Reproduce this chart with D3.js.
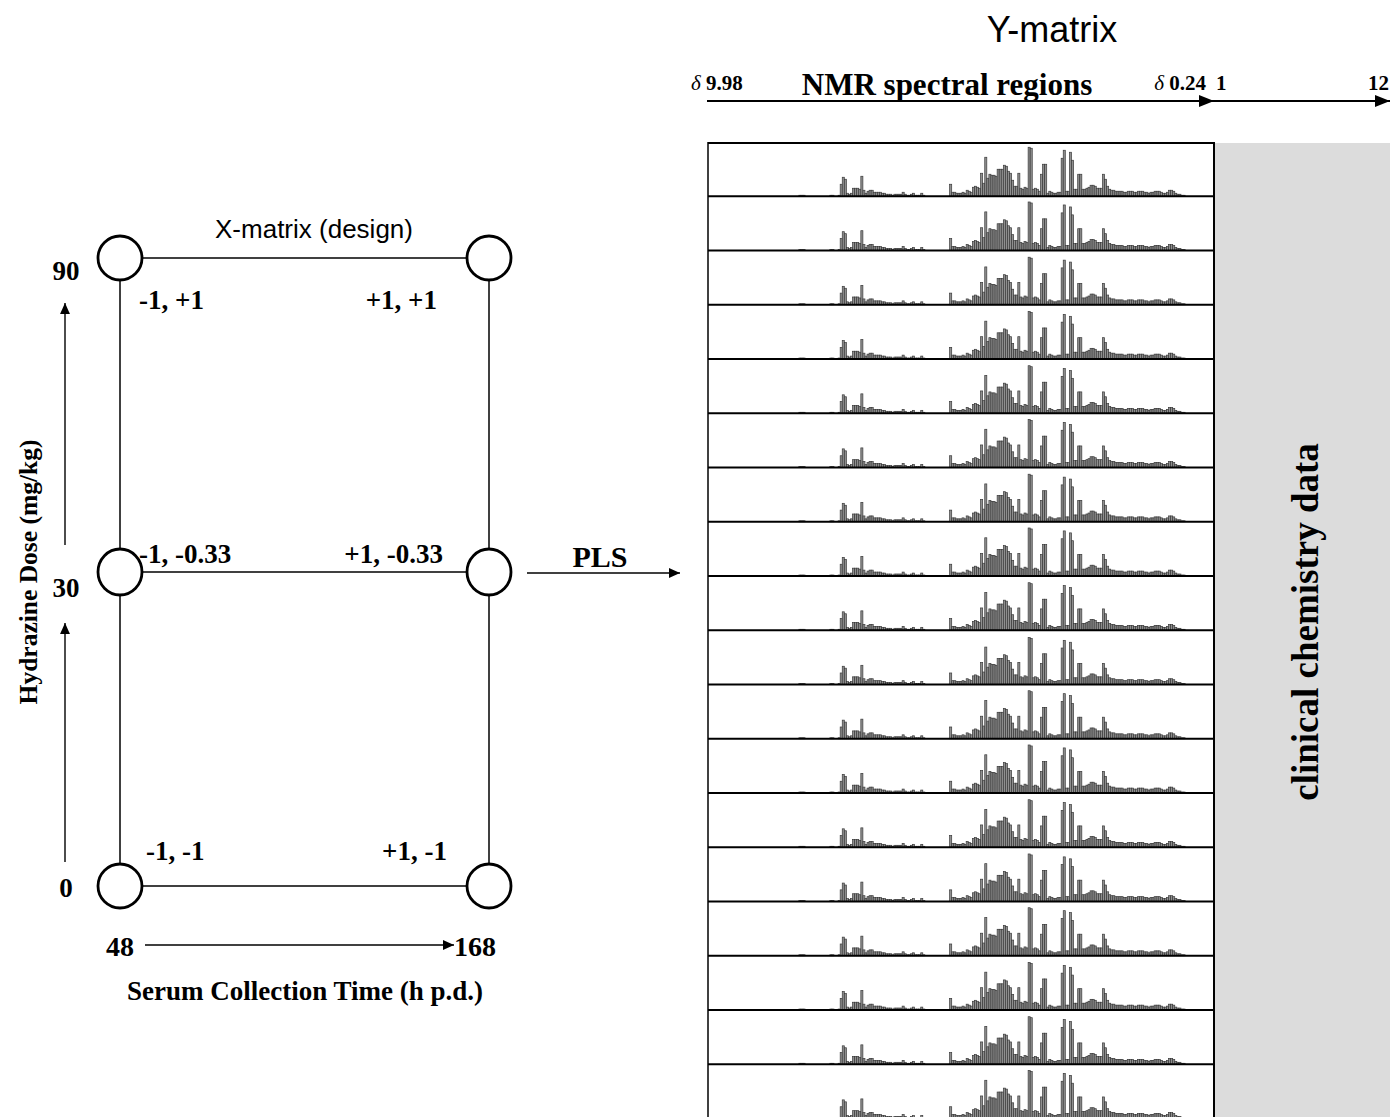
<!DOCTYPE html>
<html><head><meta charset="utf-8">
<script src="https://cdn.jsdelivr.net/npm/d3@7"></script>
<style>body{margin:0;background:#fff}svg{display:block}</style>
</head><body>
<script>
// ---------------- DATA ----------------
// binned 1H NMR spectrum (bins from δ 9.98 down to δ 0.24)
const spectrum = [
 0,0,0,0,0,0,0,0,0,0, 0,0,0,0,0,0,0,0,0,0, 0,0,0,0,0,0,0,0,0,0, 0,0,0,0,0,0,0,0,0,0, // 0-39
 0,0,0,0,1,1,1,0,0,0, // 40-49
 0,0,0,0,0,0,0,0,0,1, // 50-59
 1,0,0,1,12,19,17,3,2,3, // 60-69
 8,8,8,7,20,6,3,5,6,6, // 70-79
 4,4,4,4,3,3,2,2,2,1, // 80-89
 2,2,2,2,4,2,1,1,2,3, // 90-99
 1,1,1,3,1,0,0,0,0,0, // 100-109
 0,0,0,0,0,0,0,12,4,4, // 110-119
 3,3,3,4,3,6,5,4,9,10, // 120-129
 9,8,23,13,39,18,22,21,21,20, // 130-139
 27,27,27,31,30,25,23,16,10,10, // 140-149
 23,8,7,9,8,49,48,7,8,7, // 150-159
 5,22,32,32,3,5,4,3,3,4, // 160-169
 4,38,46,5,5,44,36,7,7,22, // 170-179
 22,7,7,8,9,11,11,10,8,8, // 180-189
 8,22,17,10,7,6,6,5,5,5, // 190-199
 5,4,4,5,5,5,4,4,5,5, // 200-209
 5,4,4,3,4,4,5,5,5,4, // 210-219
 3,3,4,6,6,5,3,2,2,1, // 220-229
 1,0,0,0,0,0,0,0,0,0, // 230-239
 0,0,0,0,0 // 240-244
];
// relative height of each of the 18 visible sample rows
const rowGain = [1.0,0.99,0.97,0.97,0.97,0.98,0.97,0.98,0.97,0.96,0.98,0.98,0.97,0.97,0.98,0.97,0.97,0.98];
const ppmRange = [9.98, 0.24];
const clinRange = [1, 12];
// experimental design (X-matrix)
const times = [48, 168];
const doses = [90, 30, 0];
const designPoints = [
  {time:48,  dose:90, label:"-1, +1"},
  {time:168, dose:90, label:"+1, +1"},
  {time:48,  dose:30, label:"-1, -0.33"},
  {time:168, dose:30, label:"+1, -0.33"},
  {time:48,  dose:0,  label:"-1, -1"},
  {time:168, dose:0,  label:"+1, -1"}
];

// ---------------- DRAWING ----------------
const W = 1390, H = 1117;
const serif = "'Liberation Serif','Times New Roman',serif";
const sans = "'Liberation Sans',Arial,sans-serif";
const svg = d3.select("body").append("svg").attr("width", W).attr("height", H);
const defs = svg.append("defs");
defs.append("marker").attr("id","ah").attr("viewBox","0 0 10 10").attr("refX",10).attr("refY",5)
  .attr("markerWidth",11).attr("markerHeight",11).attr("markerUnits","userSpaceOnUse").attr("orient","auto")
  .append("path").attr("d","M0,0.5 L10,5 L0,9.5 Z").attr("fill","#000");
defs.append("marker").attr("id","ahL").attr("viewBox","0 0 10 10").attr("refX",10).attr("refY",5)
  .attr("markerWidth",15).attr("markerHeight",15).attr("markerUnits","userSpaceOnUse").attr("orient","auto")
  .append("path").attr("d","M0,1 L10,5 L0,9 Z").attr("fill","#000");

function arrow(x1,y1,x2,y2,m="ah",w=1.3){
  svg.append("line").attr("x1",x1).attr("y1",y1).attr("x2",x2).attr("y2",y2)
    .attr("stroke","#000").attr("stroke-width",w).attr("marker-end",`url(#${m})`);
}

// ---- left: design diagram ----
const xT = d3.scalePoint().domain(times).range([120, 489]);
const yD = d3.scalePoint().domain(doses).range([258, 886]);
const R = 22;
const L = svg.append("g");
doses.forEach(d=>{
  L.append("line").attr("x1",xT(48)+R).attr("x2",xT(168)-R).attr("y1",yD(d)).attr("y2",yD(d))
   .attr("stroke","#000").attr("stroke-width",1.5);
});
times.forEach(t=>{
  for(let i=0;i<doses.length-1;i++){
    L.append("line").attr("x1",xT(t)).attr("x2",xT(t)).attr("y1",yD(doses[i])+R).attr("y2",yD(doses[i+1])-R)
     .attr("stroke","#000").attr("stroke-width",1.5);
  }
});
L.selectAll("ellipse.node").data(designPoints).join("ellipse").attr("class","node")
  .attr("cx",d=>xT(d.time)).attr("cy",d=>yD(d.dose)).attr("rx",R).attr("ry",d=>d.dose===30?23:R)
  .attr("fill","#fff").attr("stroke","#000").attr("stroke-width",2.8);
const labDy = {90:51, 30:-9, 0:-26};
const labDxL = {90:19, 30:19, 0:26};
const labDxR = {90:-52, 30:-46, 0:-42};
L.selectAll("text.lab").data(designPoints).join("text").attr("class","lab")
  .attr("x",d=>xT(d.time)+(d.time===48?labDxL[d.dose]:labDxR[d.dose]))
  .attr("y",d=>yD(d.dose)+labDy[d.dose])
  .attr("text-anchor",d=>d.time===48?"start":"end")
  .attr("font-family",serif).attr("font-weight","bold").attr("font-size",27)
  .text(d=>d.label);
const doseDy = {90:22, 30:25, 0:11};
L.selectAll("text.dose").data(doses).join("text").attr("class","dose")
  .attr("x",66).attr("y",d=>yD(d)+doseDy[d]).attr("text-anchor","middle")
  .attr("font-family",serif).attr("font-weight","bold").attr("font-size",27).text(d=>d);
L.append("text").attr("x",xT(48)).attr("y",956).attr("text-anchor","middle")
  .attr("font-family",serif).attr("font-weight","bold").attr("font-size",28).text(times[0]);
L.append("text").attr("x",454).attr("y",956).attr("text-anchor","start")
  .attr("font-family",serif).attr("font-weight","bold").attr("font-size",28).text(times[1]);
arrow(145,945,454,945,"ah",1.4);
L.append("text").attr("x",305).attr("y",1000).attr("text-anchor","middle")
  .attr("font-family",serif).attr("font-weight","bold").attr("font-size",27).text("Serum Collection Time (h p.d.)");
L.append("text").attr("transform","translate(37,572) rotate(-90)").attr("text-anchor","middle")
  .attr("font-family",serif).attr("font-weight","bold").attr("font-size",25.5).text("Hydrazine Dose (mg/kg)");
arrow(65,545,65,303,"ah",1.4);
arrow(65,862,65,623,"ah",1.4);
L.append("text").attr("x",314).attr("y",238).attr("text-anchor","middle")
  .attr("font-family",sans).attr("font-size",26).text("X-matrix (design)");
svg.append("text").attr("x",600).attr("y",567).attr("text-anchor","middle")
  .attr("font-family",serif).attr("font-weight","bold").attr("font-size",30).text("PLS");
arrow(527,573,680,573,"ah",1.4);

// ---- right: Y-matrix ----
const boxL = 708, boxR = 1214, boxT = 142, rowH = 54.25;
const xBin = d3.scaleBand().domain(d3.range(spectrum.length)).range([boxL, boxR]).padding(0);
const xPpm = d3.scaleLinear().domain(ppmRange).range([boxL, boxR]);

svg.append("text").attr("x",1052).attr("y",42).attr("text-anchor","middle")
  .attr("font-family",sans).attr("font-size",36).text("Y-matrix");
function deltaLabel(x, v, anchor){
  const t = svg.append("text").attr("x",x).attr("y",90).attr("text-anchor",anchor)
    .attr("font-family",serif).attr("font-weight","bold").attr("font-size",21);
  t.append("tspan").attr("font-style","italic").attr("font-weight","normal").text("δ");
  t.append("tspan").text(" " + v.toFixed(2));
}
deltaLabel(xPpm(ppmRange[0]) - 17, ppmRange[0], "start");
deltaLabel(xPpm(ppmRange[1]) - 8, ppmRange[1], "end");
svg.append("text").attr("x",947).attr("y",95).attr("text-anchor","middle")
  .attr("font-family",serif).attr("font-weight","bold").attr("font-size",31).text("NMR spectral regions");
svg.append("text").attr("x",1216).attr("y",90).attr("font-family",serif).attr("font-weight","bold").attr("font-size",21).text(clinRange[0]);
svg.append("text").attr("x",1368).attr("y",90).attr("font-family",serif).attr("font-weight","bold").attr("font-size",21).text(clinRange[1]);
arrow(xPpm(ppmRange[0]) - 1, 101, xPpm(ppmRange[1]), 101, "ahL", 1.8);
arrow(xPpm(ppmRange[1]), 101, W, 101, "ahL", 1.8);

svg.append("rect").attr("x",boxR).attr("y",boxT+1).attr("width",W-boxR).attr("height",H-boxT)
  .attr("fill","#dcdcdc");
svg.append("text").attr("transform","translate(1318,622) rotate(-90)").attr("text-anchor","middle")
  .attr("font-family",serif).attr("font-weight","bold").attr("font-size",37).text("clinical chemistry data");

const rows = svg.append("g");
rowGain.forEach((g,i)=>{
  const base = boxT + (i+1)*rowH;
  const y = d3.scaleLinear().domain([0,52]).range([base, base-52]);
  const gr = rows.append("g");
  gr.selectAll("rect").data(spectrum.map((v,k)=>({k,v:v*g})).filter(d=>d.v>0)).join("rect")
    .attr("x",d=>xBin(d.k)).attr("width",xBin.bandwidth())
    .attr("y",d=>y(d.v)).attr("height",d=>y(0)-y(d.v))
    .attr("fill","#8f8f8f").attr("stroke","#3a3a3a").attr("stroke-width",0.7);
  gr.append("line").attr("x1",boxL).attr("x2",boxR).attr("y1",base).attr("y2",base)
    .attr("stroke","#000").attr("stroke-width",2.2);
});
svg.append("line").attr("x1",boxL).attr("x2",boxR).attr("y1",boxT+1).attr("y2",boxT+1).attr("stroke","#000").attr("stroke-width",2);
svg.append("line").attr("x1",boxL).attr("x2",boxL).attr("y1",boxT).attr("y2",H).attr("stroke","#000").attr("stroke-width",1.5);
svg.append("line").attr("x1",boxR).attr("x2",boxR).attr("y1",boxT).attr("y2",H).attr("stroke","#000").attr("stroke-width",2);
</script>
</body></html>
